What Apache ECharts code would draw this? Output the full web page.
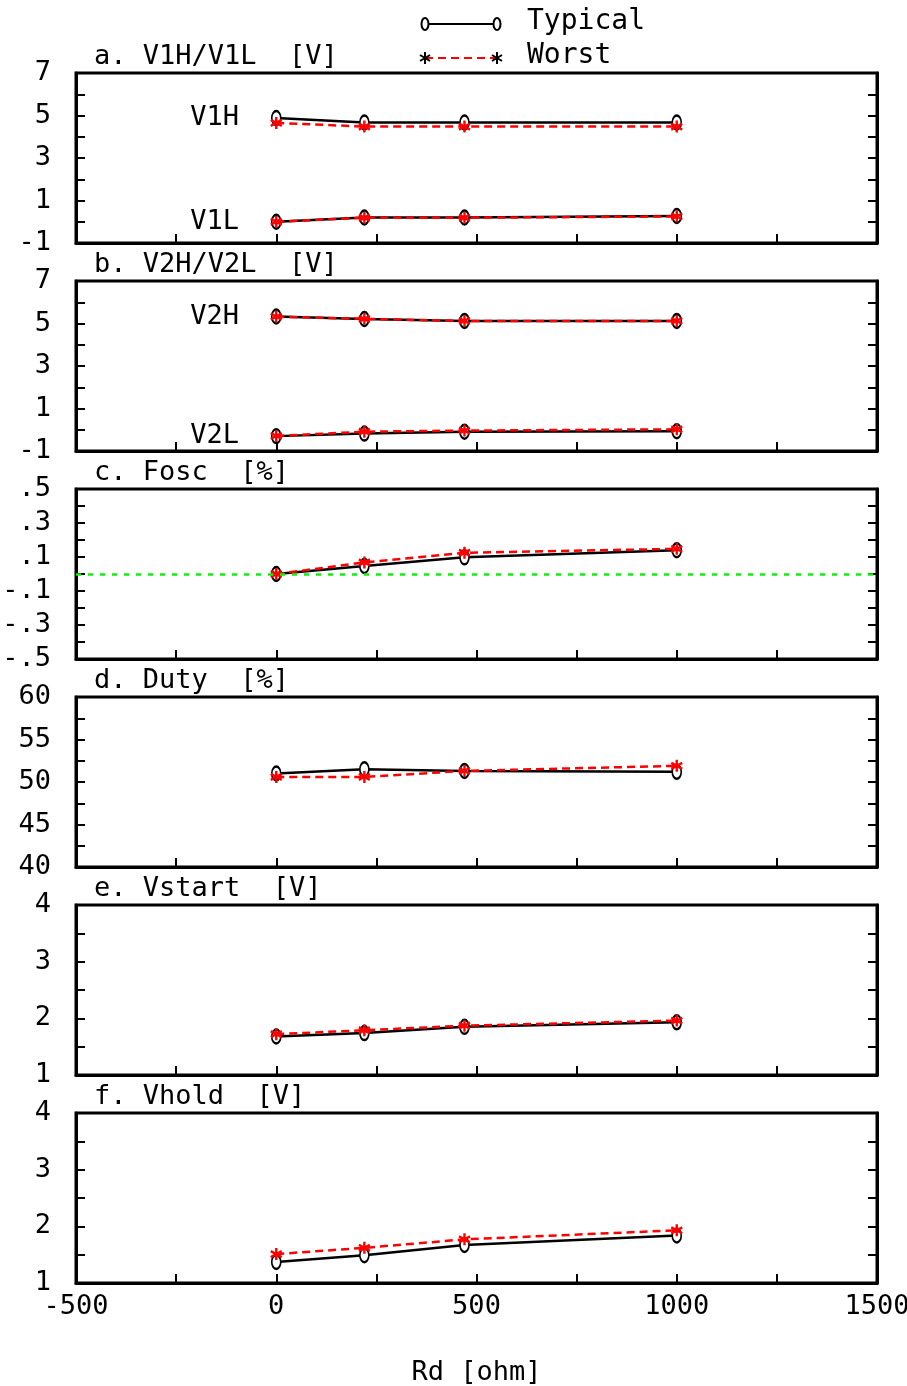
<!DOCTYPE html>
<html lang="en">
<head>
  <meta charset="utf-8">
  <title>Rd dependence</title>
  <script src="https://cdn.jsdelivr.net/npm/echarts@6/dist/echarts.min.js"></script>
  <style>
    html, body { margin: 0; padding: 0; background: #fff; }
    #main { width: 907px; height: 1386px; }
  </style>
</head>
<body>
  <div id="main"></div>
  <script>
    // x points (Rd, ohm)
    var rd = [0, 220, 470, 1000];

    // a. V1H/V1L [V]
    var v1hTyp = [4.88, 4.67, 4.67, 4.67];
    var v1hWst = [4.65, 4.48, 4.48, 4.48];
    var v1lTyp = [0.0, 0.2, 0.2, 0.27];
    var v1lWst = [0.0, 0.19, 0.19, 0.25];
    // b. V2H/V2L [V]
    var v2hTyp = [5.33, 5.21, 5.12, 5.12];
    var v2hWst = [5.32, 5.22, 5.12, 5.12];
    var v2lTyp = [-0.3, -0.18, -0.09, -0.07];
    var v2lWst = [-0.29, -0.09, -0.04, 0.02];
    // c. Fosc [%]
    var foscTyp = [0.0, 0.047, 0.098, 0.14];
    var foscWst = [0.0, 0.068, 0.125, 0.148];
    // d. Duty [%]
    var dutyTyp = [51.0, 51.5, 51.3, 51.2];
    var dutyWst = [50.6, 50.6, 51.3, 51.9];
    // e. Vstart [V]
    var vstartTyp = [1.68, 1.74, 1.85, 1.93];
    var vstartWst = [1.72, 1.79, 1.87, 1.96];
    // f. Vhold [V]
    var vholdTyp = [1.37, 1.49, 1.67, 1.84];
    var vholdWst = [1.51, 1.62, 1.77, 1.93];

    var xMin = -500, xMax = 1500, xStep = 250;

    var FONT = 'DejaVu Sans Mono';
    var FS = 27;

    var panels = [
      { title: 'a. V1H/V1L  [V]', min: -1, max: 7, step: 1, labelStep: 2,
        lines: [[v1hTyp, v1hWst, 'V1H'], [v1lTyp, v1lWst, 'V1L']] },
      { title: 'b. V2H/V2L  [V]', min: -1, max: 7, step: 1, labelStep: 2,
        lines: [[v2hTyp, v2hWst, 'V2H'], [v2lTyp, v2lWst, 'V2L']] },
      { title: 'c. Fosc  [%]', min: -0.5, max: 0.5, step: 0.1, labelStep: 0.2, zero: true,
        lines: [[foscTyp, foscWst]] },
      { title: 'd. Duty  [%]', min: 40, max: 60, step: 2.5, labelStep: 5,
        lines: [[dutyTyp, dutyWst]] },
      { title: 'e. Vstart  [V]', min: 1, max: 4, step: 0.5, labelStep: 1,
        lines: [[vstartTyp, vstartWst]] },
      { title: 'f. Vhold  [V]', min: 1, max: 4, step: 0.5, labelStep: 1,
        lines: [[vholdTyp, vholdWst]] }
    ];

    var gridLeft = 76, gridWidth = 801, gridH = 170, gridTop0 = 73, gridGap = 208;

    var starPath = 'path://M5,0L5,12M0,3L10,9M0,9L10,3';

    function fmtY(p) {
      return function (v) {
        var k = (v - p.min) / p.labelStep;
        if (Math.abs(k - Math.round(k)) > 1e-6) return '';
        var s = String(+v.toFixed(2));
        return s.replace('0.', '.');
      };
    }

    var grid = [], xAxis = [], yAxis = [], series = [], title = [];

    panels.forEach(function (p, i) {
      var top = gridTop0 + i * gridGap;
      var last = i === panels.length - 1;
      grid.push({
        left: gridLeft, top: top, width: gridWidth, height: gridH,
        containLabel: false, outerBoundsMode: 'none',
        show: true, borderColor: '#000', borderWidth: 3, backgroundColor: 'transparent'
      });
      title.push({
        text: p.title, left: 94, top: top - 30, padding: 0,
        textStyle: { fontFamily: FONT, fontSize: FS, fontWeight: 'normal', color: '#000' }
      });
      xAxis.push({
        gridIndex: i, type: 'value', min: xMin, max: xMax, interval: xStep,
        name: last ? 'Rd [ohm]' : '', nameLocation: 'middle', nameGap: 76,
        nameTextStyle: { fontFamily: FONT, fontSize: FS, color: '#000' },
        splitLine: { show: false },
        axisLine: { show: true, onZero: false, lineStyle: { color: '#000', width: 3 } },
        axisTick: { show: true, inside: true, length: 9, lineStyle: { color: '#000', width: 2 } },
        axisLabel: {
          show: last, margin: 10, fontFamily: FONT, fontSize: FS, color: '#000',
          showMinLabel: true, showMaxLabel: true,
          formatter: function (v) { return v % 500 === 0 ? String(v) : ''; }
        }
      });
      ['left', 'right'].forEach(function (pos) {
        yAxis.push({
          gridIndex: i, type: 'value', position: pos,
          min: p.min, max: p.max, interval: p.step,
          splitLine: { show: false },
          axisLine: { show: true, onZero: false, lineStyle: { color: '#000', width: 3 } },
          axisTick: { show: true, inside: true, length: 9, lineStyle: { color: '#000', width: 2 } },
          axisLabel: {
            show: pos === 'left', margin: 25, fontFamily: FONT, fontSize: FS, color: '#000',
            showMinLabel: true, showMaxLabel: true,
            formatter: fmtY(p)
          }
        });
      });
      var yIdx = i * 2;
      p.lines.forEach(function (pair, j) {
        var typ = pair[0], wst = pair[1], name = pair[2];
        var typData = rd.map(function (x, k) {
          var item = { value: [x, typ[k]] };
          if (k === 0 && name) {
            item.label = {
              show: true, position: 'left', distance: 32, formatter: name,
              fontFamily: FONT, fontSize: FS, color: '#000'
            };
          }
          return item;
        });
        var s1 = {
          type: 'line', name: 'Typical', xAxisIndex: i, yAxisIndex: yIdx,
          data: typData, symbol: 'emptyCircle', symbolSize: [9, 14], showAllSymbol: true,
          lineStyle: { color: '#000', width: 2.5 },
          itemStyle: { color: '#000', borderColor: '#000', borderWidth: 2.5 },
          z: 2, animation: false
        };
        if (p.zero && j === 0) {
          s1.markLine = {
            silent: true, symbol: 'none', animation: false,
            label: { show: false },
            lineStyle: { color: '#11ee11', type: [5, 7], width: 2.5 },
            data: [{ yAxis: 0 }]
          };
        }
        series.push(s1);
        series.push({
          type: 'line', name: 'Worst', xAxisIndex: i, yAxisIndex: yIdx,
          data: rd.map(function (x, k) { return [x, wst[k]]; }),
          symbol: starPath, symbolSize: [11, 12], showAllSymbol: true,
          lineStyle: { color: '#ff0000', width: 2.5, type: [8, 5] },
          itemStyle: { color: '#ff0000', borderColor: '#ff0000', borderWidth: 2.5 },
          z: 3, animation: false
        });
      });
    });

    function star(cx, cy, color) {
      return [
        { type: 'line', shape: { x1: cx, y1: cy - 6, x2: cx, y2: cy + 6 }, style: { stroke: color, lineWidth: 2 } },
        { type: 'line', shape: { x1: cx - 5, y1: cy - 3, x2: cx + 5, y2: cy + 3 }, style: { stroke: color, lineWidth: 2 } },
        { type: 'line', shape: { x1: cx - 5, y1: cy + 3, x2: cx + 5, y2: cy - 3 }, style: { stroke: color, lineWidth: 2 } }
      ];
    }

    var legendEls = [
      { type: 'line', shape: { x1: 425, y1: 24, x2: 497, y2: 24 }, style: { stroke: '#000', lineWidth: 2 } },
      { type: 'ellipse', shape: { cx: 425, cy: 24, rx: 3.5, ry: 6 }, style: { fill: '#fff', stroke: '#000', lineWidth: 2 } },
      { type: 'ellipse', shape: { cx: 497, cy: 24, rx: 3.5, ry: 6 }, style: { fill: '#fff', stroke: '#000', lineWidth: 2 } },
      { type: 'text', x: 527, y: 22, style: { text: 'Typical', fontFamily: FONT, fontSize: 28, fill: '#000', verticalAlign: 'middle' } },
      { type: 'line', shape: { x1: 425, y1: 58, x2: 497, y2: 58 }, style: { stroke: '#ff0000', lineWidth: 2, lineDash: [8, 5] } },
      { type: 'text', x: 527, y: 56, style: { text: 'Worst', fontFamily: FONT, fontSize: 28, fill: '#000', verticalAlign: 'middle' } }
    ].concat(star(425, 58, '#000')).concat(star(497, 58, '#000'));

    var chart = echarts.init(document.getElementById('main'), null, { renderer: 'canvas' });
    chart.setOption({
      animation: false,
      backgroundColor: '#fff',
      title: title,
      grid: grid,
      xAxis: xAxis,
      yAxis: yAxis,
      series: series,
      graphic: legendEls
    });
  </script>
</body>
</html>
